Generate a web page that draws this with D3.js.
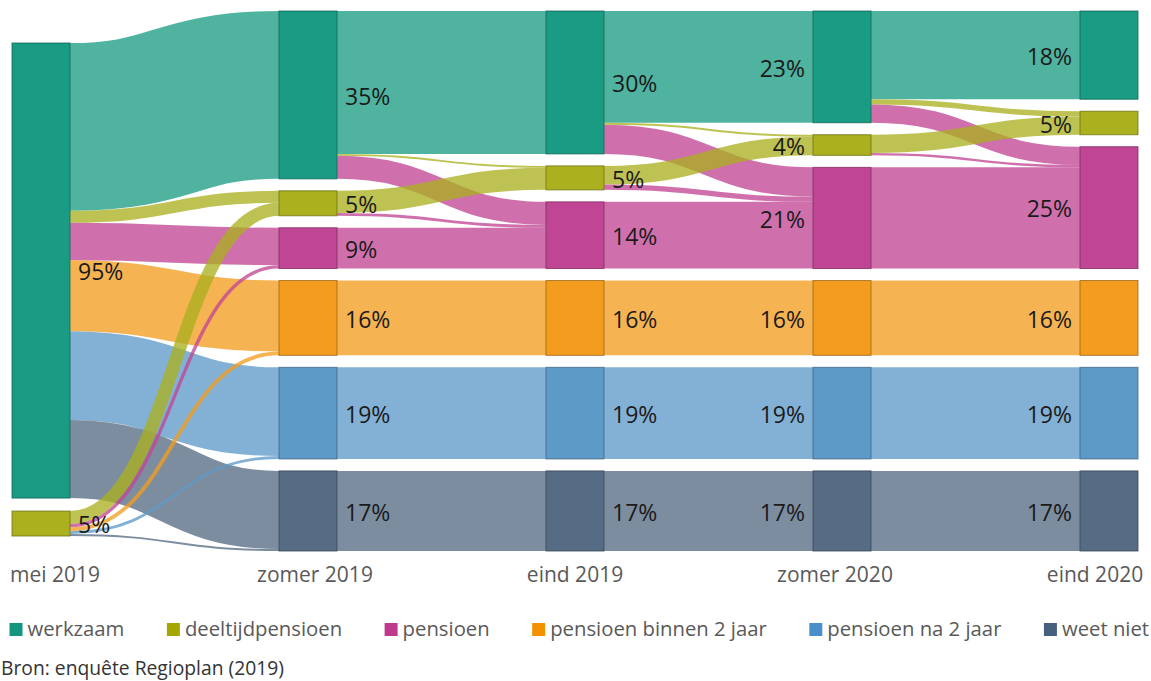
<html lang="nl">
<head>
<meta charset="utf-8">
<title>Sankey pensioen</title>
<script src="https://d3js.org/d3.v7.min.js"></script>
<style>
	body { margin: 0; background: #fff; }
	svg { display: block; font-family: "Open Sans", sans-serif; }
	.pct { font-size: 23px; fill: #1a1a1a; }
	.stage { font-size: 21px; fill: #595959; }
	.legend text { font-size: 20.3px; fill: #595959; }
	.source { font-size: 19.3px; fill: #333; }
</style>
</head>
<body>
<svg id="chart" width="1151" height="681"></svg>
<script>
// stages (columns) and categories
var stages = ["mei 2019", "zomer 2019", "eind 2019", "zomer 2020", "eind 2020"];
var categories = ["werkzaam", "deeltijdpensioen", "pensioen", "pensioen binnen 2 jaar", "pensioen na 2 jaar", "weet niet"];
var nodeColors = ["#1a9c84", "#aab01e", "#c04594", "#f39c1e", "#5e9ac8", "#566b84"];
var legendColors = ["#13967d", "#a5a600", "#bf3a8c", "#f39200", "#4a8fc9", "#46607e"];

// flows between consecutive stages: [from category, to category, percentage]
var flows01 = [[0, 0, 35], [0, 1, 2.5], [0, 2, 7.8], [0, 3, 14.8], [0, 4, 18.5], [0, 5, 16.3],
	[1, 1, 2.7], [1, 2, 0.7], [1, 3, 0.8], [1, 4, 0.6], [1, 5, 0.4]];
var flows12 = [[0, 0, 29.8], [0, 1, 0.4], [0, 2, 4.8], [1, 1, 4.6], [1, 2, 0.6],
	[2, 2, 8.5], [3, 3, 15.6], [4, 4, 19.1], [5, 5, 16.7]];
var flows23 = [[0, 0, 23.3], [0, 1, 0.4], [0, 2, 6.1], [1, 1, 3.9], [1, 2, 1.1],
	[2, 2, 13.9], [3, 3, 15.6], [4, 4, 19.1], [5, 5, 16.7]];
var flows34 = [[0, 0, 18.4], [0, 1, 1.1], [0, 2, 3.8], [1, 1, 3.8], [1, 2, 0.5],
	[2, 2, 21.1], [3, 3, 15.6], [4, 4, 19.1], [5, 5, 16.7]];
var transitions = [flows01, flows12, flows23, flows34];

var svg = d3.select("#chart");
var areaTop = 11, areaBottom = 551, nodeWidth = 58, gap = 12;
var firstColumnTop = 43, firstColumnGap = 13;

var x = d3.scaleLinear().domain([0, stages.length - 1]).range([12, 1080]);

// build nodes
var nodes = {};
function getNode(stage, cat) {
	var key = stage + "-" + cat;
	if (!nodes[key]) nodes[key] = {stage: stage, cat: cat, inLinks: [], outLinks: []};
	return nodes[key];
}
var links = [];
transitions.forEach(function (flows, t) {
	flows.forEach(function (f) {
		var s = getNode(t, f[0]), e = getNode(t + 1, f[1]);
		var l = {source: s, target: e, value: f[2]};
		s.outLinks.push(l);
		e.inLinks.push(l);
		links.push(l);
	});
});
var nodeList = Object.values(nodes);
nodeList.forEach(function (n) {
	n.value = Math.max(d3.sum(n.inLinks, function (l) { return l.value; }),
		d3.sum(n.outLinks, function (l) { return l.value; }));
});
var columns = d3.range(stages.length).map(function (s) {
	return nodeList.filter(function (n) { return n.stage === s; })
		.sort(function (a, b) { return a.cat - b.cat; });
});

// vertical scale: one px-per-percent for all columns
var ky = d3.min(columns, function (col) {
	return (areaBottom - areaTop - (col.length - 1) * gap) / d3.sum(col, function (n) { return n.value; });
});
var y = d3.scaleLinear().domain([0, 1]).range([0, ky]);

columns.forEach(function (col, s) {
	var total = d3.sum(col, function (n) { return y(n.value); });
	var g = s === 0 ? firstColumnGap : (areaBottom - areaTop - total) / (col.length - 1);
	var pos = s === 0 ? firstColumnTop : areaTop;
	col.forEach(function (n) {
		n.x0 = x(s);
		n.x1 = x(s) + nodeWidth;
		n.y0 = pos;
		n.y1 = pos + y(n.value);
		pos = n.y1 + g;
	});
});

// stack links at both ends
nodeList.forEach(function (n) {
	var sy = n.y0;
	n.outLinks.sort(function (a, b) { return a.target.y0 - b.target.y0; }).forEach(function (l) {
		l.width = y(l.value);
		l.sy = sy + l.width / 2;
		sy += l.width;
	});
	var ty = n.y0;
	n.inLinks.sort(function (a, b) { return a.source.y0 - b.source.y0; }).forEach(function (l) {
		l.ty = ty + y(l.value) / 2;
		ty += y(l.value);
	});
});

var linkPath = d3.linkHorizontal()
	.source(function (d) { return [d.source.x1, d.sy]; })
	.target(function (d) { return [d.target.x0, d.ty]; });

svg.append("g")
	.selectAll("path")
	.data(links)
	.enter().append("path")
	.attr("d", linkPath)
	.attr("fill", "none")
	.attr("stroke", function (d) { return nodeColors[d.target.cat]; })
	.attr("stroke-opacity", 0.77)
	.attr("stroke-width", function (d) { return Math.max(1, d.width); });

svg.append("g")
	.selectAll("rect")
	.data(nodeList)
	.enter().append("rect")
	.attr("x", function (d) { return d.x0; })
	.attr("y", function (d) { return d.y0; })
	.attr("width", nodeWidth)
	.attr("height", function (d) { return d.y1 - d.y0; })
	.attr("fill", function (d) { return nodeColors[d.cat]; })
	.attr("stroke", function (d) { return d3.color(nodeColors[d.cat]).darker(1.2); })
	.attr("stroke-opacity", 0.8)
	.attr("stroke-width", 1);

// percentage labels
svg.append("g")
	.selectAll("text")
	.data(nodeList)
	.enter().append("text")
	.attr("class", "pct")
	.attr("x", function (d) { return d.stage < 3 ? d.x1 + 8 : d.x0 - 8; })
	.attr("y", function (d) { return (d.y0 + d.y1) / 2; })
	.attr("dy", "0.42em")
	.attr("text-anchor", function (d) { return d.stage < 3 ? "start" : "end"; })
	.text(function (d) { return Math.round(d.value) + "%"; });

// stage labels
var stageX = d3.scalePoint().domain(stages).range([55, 1095]);
svg.append("g")
	.selectAll("text")
	.data(stages)
	.enter().append("text")
	.attr("class", "stage")
	.attr("x", function (d) { return stageX(d); })
	.attr("y", 582)
	.attr("text-anchor", "middle")
	.text(function (d) { return d; });

// legend
var legend = svg.append("g").attr("class", "legend");
var lx = 9.5;
categories.forEach(function (c, i) {
	var item = legend.append("g").attr("transform", "translate(" + lx + ",0)");
	item.append("rect").attr("x", 0).attr("y", 623).attr("width", 13).attr("height", 13)
		.attr("fill", legendColors[i]);
	var t = item.append("text").attr("x", 18).attr("y", 636).text(c);
	lx += 18 + t.node().getComputedTextLength() + 42.5;
});

svg.append("text")
	.attr("class", "source")
	.attr("x", 1)
	.attr("y", 675)
	.text("Bron: enquête Regioplan (2019)");
</script>
</body>
</html>
